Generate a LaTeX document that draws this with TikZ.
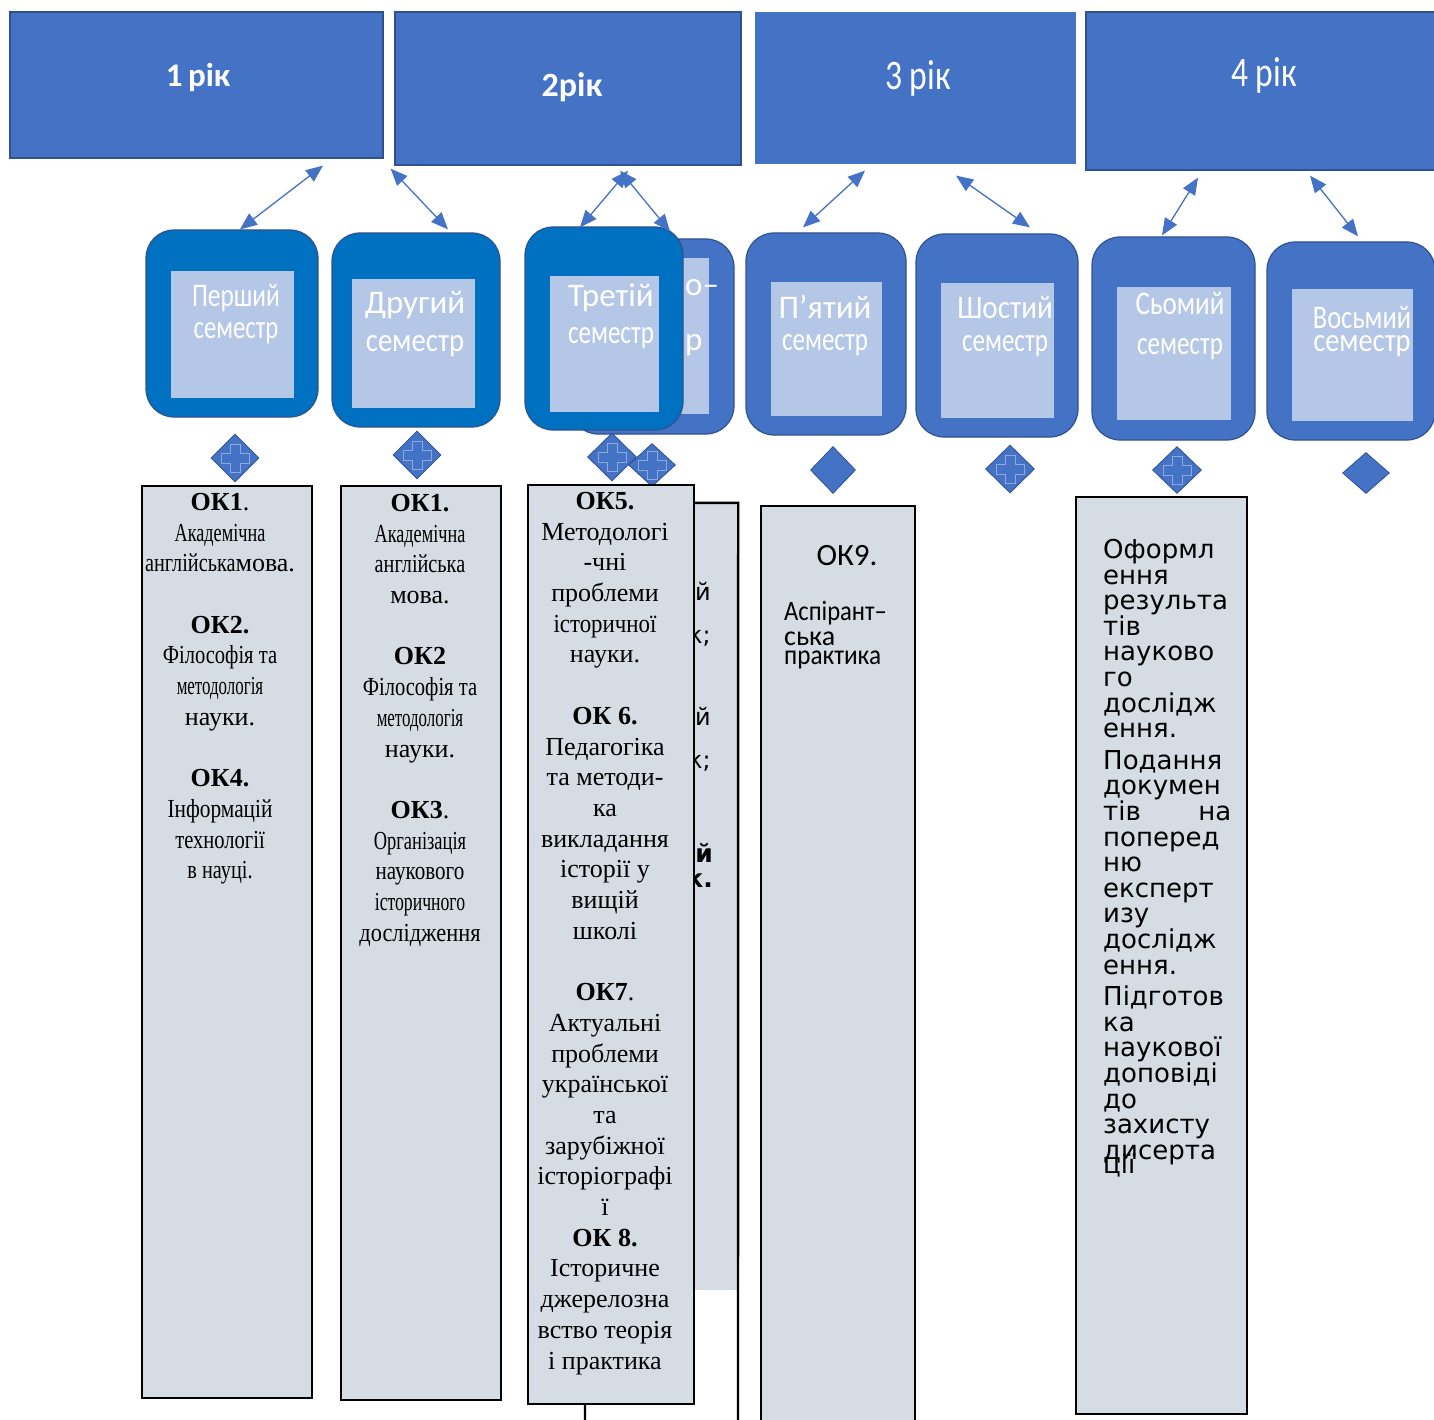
\documentclass[tikz,border=0pt]{standalone}
\usepackage{fontspec}
\usepackage{graphicx}
\setmainfont{Liberation Serif}
\newfontfamily\calfont{Carlito}
\newfontfamily\dvfont{DejaVu Sans}
\usetikzlibrary{arrows.meta,shapes.geometric}
\definecolor{yearblue}{HTML}{4472C4}
\definecolor{semdark}{HTML}{0070C0}
\definecolor{edgeblue}{HTML}{2F528F}
\definecolor{innerblue}{HTML}{B4C7E7}
\definecolor{colgrey}{HTML}{D6DCE4}
\newcommand{\nar}[2]{\scalebox{#1}[1]{#2}}
\begin{document}
\begin{tikzpicture}[x=1pt,y=-1pt,
    yearbox/.style={draw=edgeblue,line width=1.2pt,fill=yearblue,inner sep=0pt},
    yearlabel/.style={text=white,inner sep=0pt},
    semouter/.style={draw=edgeblue,line width=1.2pt,rounded corners=28pt,inner sep=0pt},
    seminner/.style={fill=innerblue,inner sep=0pt},
    semlabel/.style={text=white,align=center,inner sep=0pt},
    conn/.style={{Triangle[length=17pt,width=14pt]}-{Triangle[length=17pt,width=14pt]},draw=yearblue,line width=1.3pt},
    dia/.style={diamond,fill=yearblue,draw=edgeblue,line width=0.8pt,inner sep=0pt},
    diaplus/.style={dia,path picture={
      \draw[white,opacity=.4,line width=.8pt,shift={(path picture bounding box.center)}]
        (-5,-14) -- (5,-14) -- (5,-5) -- (14,-5) -- (14,5) -- (5,5) -- (5,14) -- (-5,14) -- (-5,5) -- (-14,5) -- (-14,-5) -- (-5,-5) -- cycle;}},
    colbox/.style={draw=black,line width=2.4pt,fill=colgrey,inner sep=0pt},
    coltext/.style={align=center,inner sep=0pt,anchor=north,font=\fontsize{26}{30.7}\selectfont},
    colline/.style={draw=black,line width=2.4pt}]
  \useasboundingbox (0,0) rectangle (1434,1420);

  \node[yearbox,minimum width=373pt,minimum height=146pt] (h1) at (196.5,85) {};
  \node[yearbox,minimum width=346pt,minimum height=153pt] (h2) at (568,88.5) {};
  \node[yearbox,draw=none,minimum width=321pt,minimum height=152pt] (h3) at (915.5,88) {};
  \node[yearbox,minimum width=350pt,minimum height=158pt] (h4) at (1261,91) {};
  \node[yearlabel,font=\calfont\bfseries\fontsize{33}{33}\selectfont] (h1t) at (198,78) {1\,рік};
  \node[yearlabel,font=\calfont\bfseries\fontsize{34}{34}\selectfont] (h2t) at (572,87) {2рік};
  \node[yearlabel,font=\calfont\fontsize{42}{42}\selectfont] (h3t) at (918,78) {\nar{.8}{3 рік}};
  \node[yearlabel,font=\calfont\fontsize{42}{42}\selectfont] (h4t) at (1264,75) {\nar{.8}{4 рік}};

  \node[semouter,fill=yearblue,minimum width=164pt,minimum height=195pt] (s4) at (652,336.5) {};
  \node[seminner,minimum width=114pt,minimum height=156pt] (i4) at (652,336) {};
  \node[semlabel,align=left,anchor=north west,font=\calfont\fontsize{33}{55}\selectfont] (l4) at (685,279) {о–\\р};

  \node[semouter,fill=semdark,minimum width=172pt,minimum height=187pt] (s1) at (232,323.5) {};
  \node[seminner,minimum width=123pt,minimum height=127pt] (i1) at (232.5,334.5) {};
  \node[semlabel,font=\calfont\fontsize{33}{32}\selectfont] (l1) at (236,314) {\nar{.77}{Перший}\\\nar{.75}{семестр}};
  \node[semouter,fill=semdark,minimum width=168pt,minimum height=194pt] (s2) at (416,330) {};
  \node[seminner,minimum width=123pt,minimum height=129pt] (i2) at (413.5,343.5) {};
  \node[semlabel,font=\calfont\fontsize{33}{38}\selectfont] (l2) at (415,324) {Другий\\\nar{.87}{семестр}};
  \node[semouter,fill=semdark,minimum width=158pt,minimum height=203pt] (s3) at (604,328.5) {};
  \node[seminner,minimum width=109pt,minimum height=136pt] (i3) at (604.5,344) {};
  \node[semlabel,font=\calfont\fontsize{33}{37}\selectfont] (l3) at (611,316.5) {Третій\\\nar{.76}{семестр}};
  \node[semouter,fill=yearblue,minimum width=160pt,minimum height=202pt] (s5) at (826,334) {};
  \node[seminner,minimum width=111pt,minimum height=134pt] (i5) at (826.5,349) {};
  \node[semlabel,font=\calfont\fontsize{33}{32}\selectfont] (l5) at (825,326) {П’ятий\\\nar{.76}{семестр}};
  \node[semouter,fill=yearblue,minimum width=162pt,minimum height=203pt] (s6) at (997,335.5) {};
  \node[seminner,minimum width=113pt,minimum height=135pt] (i6) at (997.5,350.5) {};
  \node[semlabel,font=\calfont\fontsize{33}{33}\selectfont] (l6) at (1005,326.5) {\nar{.88}{Шостий}\\\nar{.76}{семестр}};
  \node[semouter,fill=yearblue,minimum width=163pt,minimum height=203pt] (s7) at (1173.5,338.5) {};
  \node[seminner,minimum width=114pt,minimum height=133pt] (i7) at (1174,353.5) {};
  \node[semlabel,font=\calfont\fontsize{33}{40}\selectfont] (l7) at (1180,326) {\nar{.82}{Сьомий}\\\nar{.76}{семестр}};
  \node[semouter,fill=yearblue,minimum width=168pt,minimum height=198pt] (s8) at (1351,341) {};
  \node[seminner,minimum width=121pt,minimum height=132pt] (i8) at (1352.5,355) {};
  \node[semlabel,font=\calfont\fontsize{33}{23}\selectfont] (l8) at (1362,331.5) {\nar{.8}{Восьмий}\\\nar{.86}{семестр}};

  \draw[conn] ([shift={(126.5,7)}]h1.south) -- ([shift={(8,0)}]s1.north);
  \draw[conn] ([shift={(7,10)}]h1.south east) -- ([shift={(32,-3)}]s2.north);
  \draw[conn] ([shift={(60,5)}]h2.south) -- ([shift={(-24,1)}]s3.north);
  \draw[conn] ([shift={(52,5)}]h2.south) -- ([shift={(18,-7)}]s4.north);
  \draw[conn] ([shift={(-50.5,6)}]h3.south) -- ([shift={(-23,-5)}]s5.north);
  \draw[conn] ([shift={(40.5,11)}]h3.south) -- ([shift={(33,-6)}]s6.north);
  \draw[conn] ([shift={(-63,7)}]h4.south) -- ([shift={(-11.5,-1)}]s7.north);
  \draw[conn] ([shift={(49,5)}]h4.south) -- ([shift={(7,-5)}]s8.north);

  \node[diaplus,minimum width=48pt,minimum height=48pt] (d1) at (235,458) {};
  \node[diaplus,minimum width=48pt,minimum height=48pt] (d2) at (417,455) {};
  \node[diaplus,minimum width=49pt,minimum height=48pt] (d3) at (612,457) {};
  \node[diaplus,minimum width=47pt,minimum height=43pt] (d4) at (652,465) {};
  \node[dia,minimum width=45pt,minimum height=47pt] (d5) at (833,470) {};
  \node[diaplus,minimum width=49pt,minimum height=48pt] (d6) at (1010,469) {};
  \node[diaplus,minimum width=49pt,minimum height=47pt] (d7) at (1177,470) {};
  \node[dia,minimum width=47pt,minimum height=41pt] (d8) at (1366,473) {};

  \node[fill=colgrey,inner sep=0pt,minimum width=153pt,minimum height=787pt] (c4) at (661.5,896.5) {};
  \coordinate (c4bl) at (585,1440);
  \coordinate (c4br) at (738,1440);
  \draw[colline] (c4bl) -- (c4.north west) -- (c4.north east) -- (c4br);
  \node[align=right,anchor=north east,inner sep=0pt,font=\dvfont\fontsize{24}{43}\selectfont] (f1) at (711,582) {й\\к;};
  \node[align=right,anchor=north east,inner sep=0pt,font=\dvfont\fontsize{24}{43}\selectfont] (f2) at (711,707) {й\\к;};
  \node[align=right,anchor=north east,inner sep=0pt,font=\dvfont\bfseries\fontsize{25}{25}\selectfont] (f3) at (713,843) {й\\к.};

  \node[colbox,minimum width=170pt,minimum height=912pt] (c1) at (227,942) {};
  \node[colbox,minimum width=160pt,minimum height=914pt] (c2) at (421,943) {};
  \node[colbox,minimum width=166pt,minimum height=919pt] (c3) at (611,944.5) {};
  \node[colbox,minimum width=154pt,minimum height=934pt] (c5) at (838,973) {};
  \node[colbox,minimum width=171pt,minimum height=917pt] (c6) at (1161.5,955.5) {};

  \node[coltext] (c1t) at (220,493) {\textbf{ОК1}.\\\nar{.7}{Академічна}\\\nar{.78}{англійська}мова.\\[30.7pt]
    \textbf{ОК2.}\\\nar{.79}{Філософія та}\\\nar{.65}{методологія}\\науки.\\[30.7pt]
    \textbf{ОК4.}\\\nar{.82}{Інформацій}\\\nar{.79}{технології}\\\nar{.78}{в науці.}};
  \node[coltext] (c2t) at (420,494) {\textbf{ОК1.}\\\nar{.7}{Академічна}\\\nar{.78}{англійська}\\мова.\\[30.7pt]
    \textbf{ОК2}\\\nar{.79}{Філософія та}\\\nar{.65}{методологія}\\науки.\\[30.7pt]
    \textbf{ОК3}.\\\nar{.71}{Організація}\\\nar{.81}{наукового}\\\nar{.68}{історичного}\\\nar{.86}{дослідження}};
  \node[coltext] (c3t) at (605,492) {\textbf{ОК5.}\\Методологі\\-чні\\проблеми\\\nar{.88}{історичної}\\науки.\\[30.7pt]
    \textbf{ОК 6.}\\Педагогіка\\та методи-\\ка\\викладання\\історії у\\вищій\\школі\\[30.7pt]
    \textbf{ОК7}.\\Актуальні\\проблеми\\української\\та\\зарубіжної\\історіографі\\ї\\
    \textbf{ОК 8.}\\Історичне\\джерелозна\\вство теорія\\і практика};
  \node[inner sep=0pt,font=\calfont\fontsize{31}{31}\selectfont] (c5t) at (847,556) {ОК9.};
  \node[align=left,anchor=north west,inner sep=0pt,font=\calfont\fontsize{28}{19}\selectfont] (c5p) at (784,601) {\nar{.88}{Аспірант–}\\[6pt]ська\\\nar{.9}{практика}};
  \node[align=left,anchor=north west,inner sep=0pt,text width=128pt,font=\dvfont\fontsize{26}{25.6}\selectfont] (c6t) at (1103,539)
    {Оформл\\ення\\результа\\тів\\науково\\го\\дослідж\\ення.\\[6pt]Подання\\докумен\\тів\hfill на\\поперед\\ню\\експерт\\изу\\дослідж\\ення.\\[6pt]Підготов\\ка\\наукової\\доповіді\\до\\захисту\\дисерта\\[-11.6pt]ції};
\end{tikzpicture}
\end{document}
